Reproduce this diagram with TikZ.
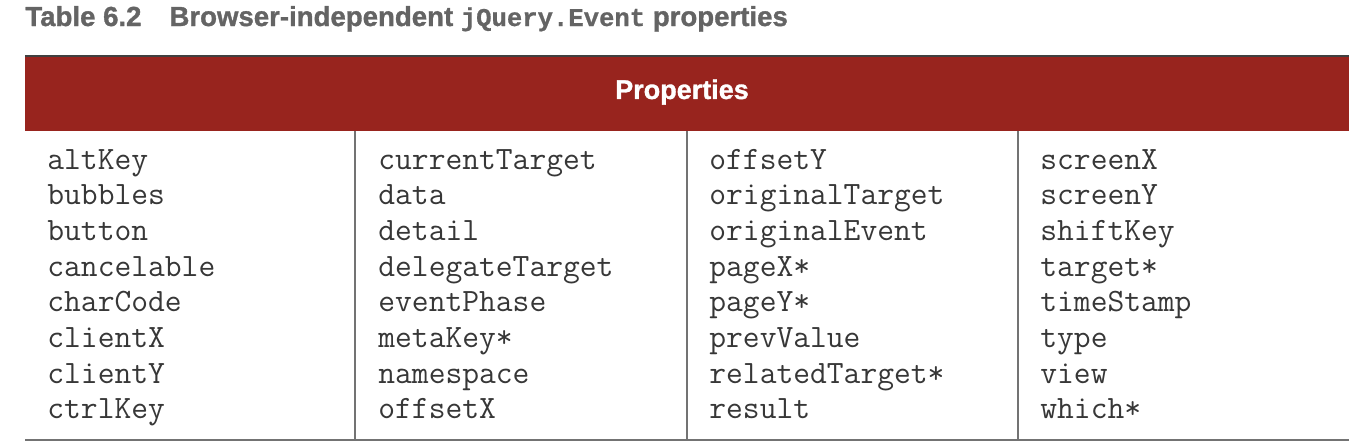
\documentclass[tikz,border=0pt]{standalone}
\usepackage{fontspec}
\setmainfont{Liberation Sans}
\newfontfamily\titlefont[FakeBold=1.2]{Liberation Sans}
\newfontfamily\titlemono[FakeBold=0.8]{Liberation Mono}
\usepackage{tikz}
\definecolor{headred}{RGB}{152,36,30}
\definecolor{titlegray}{RGB}{100,100,100}
\definecolor{rulegray}{RGB}{115,115,115}
\definecolor{codegray}{RGB}{55,55,55}
\newcommand{\drawpropcolumn}[3]{
  \foreach \prop [count=\row] in {#3} {
    \node[propname] (#1-\row) at (#2,{133.3+35.7*\row}) {\prop};
  }
}
\tikzset{
  propname/.style={anchor=base west,inner sep=0pt,text=codegray,font=\ttfamily\fontsize{16.3}{16}\selectfont},
  tablerule/.style={draw=rulegray,line width=0.7pt}
}

\begin{document}
\begin{tikzpicture}[x=0.5pt,y=-0.5pt]
      \useasboundingbox (0,0) rectangle (1372,446);
      \node[anchor=base west,inner sep=0pt,text=titlegray,font=\titlefont\bfseries\fontsize{13.8}{14}\selectfont] (title) at (25,26)
        {Table 6.2\hspace{14pt}Browser-independent {\titlemono\bfseries\fontsize{12.8}{14}\selectfont jQuery.Event} properties};
      \fill[headred] (25,56) rectangle (1349,131);
      \draw[black!75,line width=1pt] (25,55.5) -- (1349,55.5);
      \node[text=white,inner sep=0pt,font=\titlefont\bfseries\fontsize{13.5}{14}\selectfont] (header) at (682,92) {Properties};
      \foreach \x in {355,687,1018}
        \draw[tablerule] (\x,131) -- (\x,440);
      \draw[tablerule,line width=1pt] (25,440) -- (1349,440);
      \drawpropcolumn{colA}{47}{altKey,bubbles,button,cancelable,charCode,clientX,clientY,ctrlKey}
      \drawpropcolumn{colB}{378}{currentTarget,data,detail,delegateTarget,eventPhase,metaKey*,namespace,offsetX}
      \drawpropcolumn{colC}{709}{offsetY,originalTarget,originalEvent,pageX*,pageY*,prevValue,relatedTarget*,result}
      \drawpropcolumn{colD}{1040}{screenX,screenY,shiftKey,target*,timeStamp,type,view,which*}
\end{tikzpicture}
\end{document}
